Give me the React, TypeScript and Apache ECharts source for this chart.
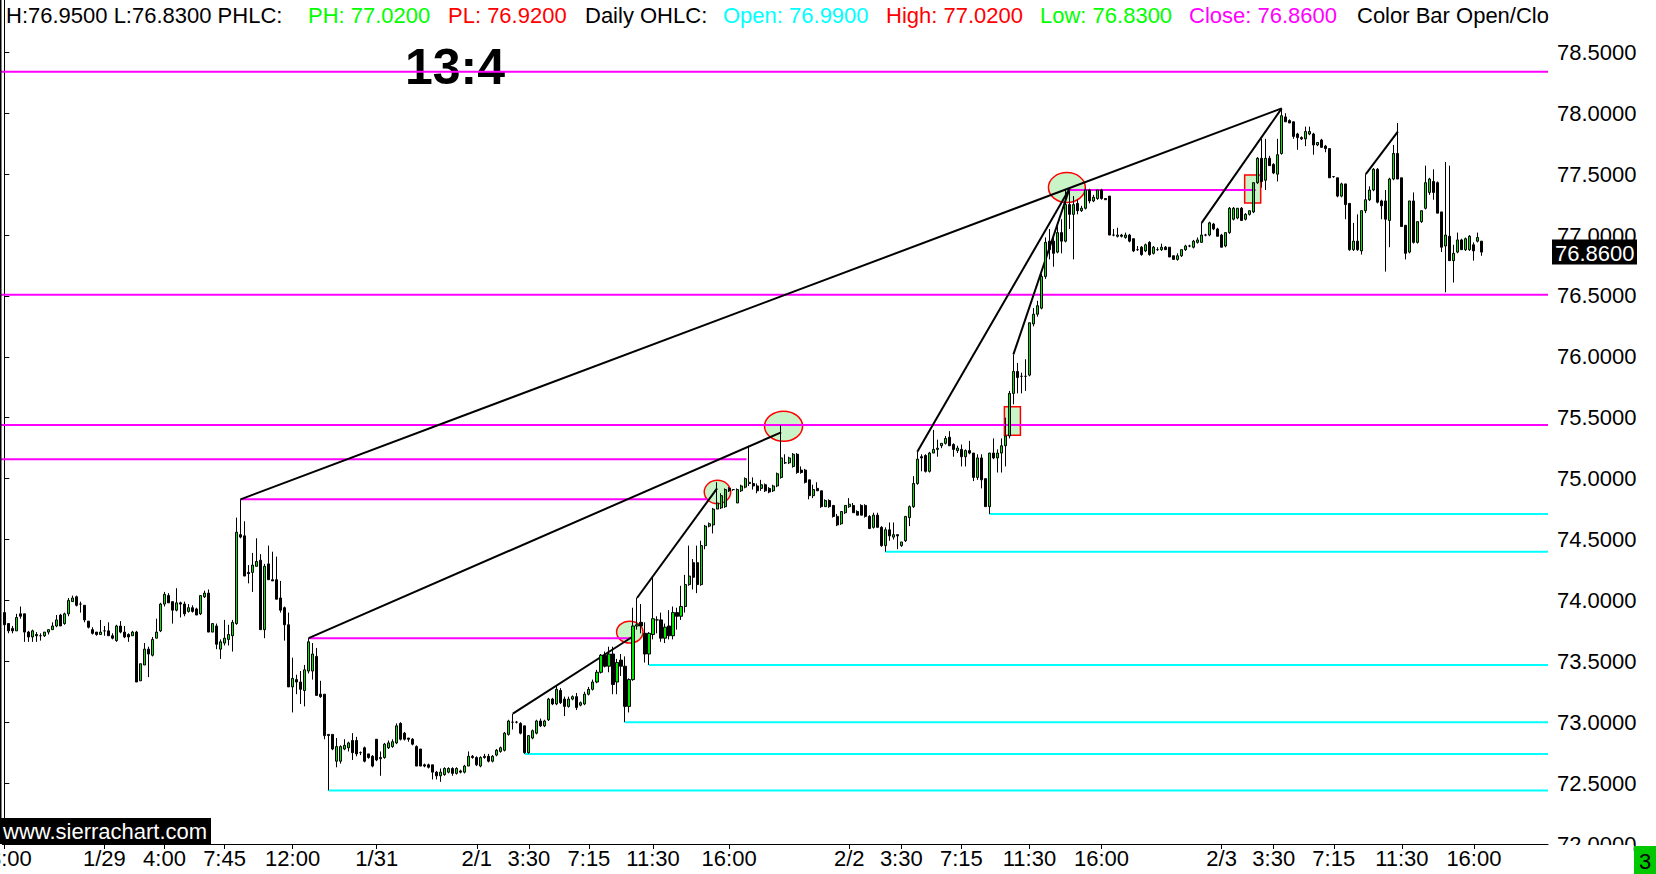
import React, { useEffect, useRef } from 'react';
import * as echarts from 'echarts';

const FONT = '"Liberation Sans", Arial, Helvetica, sans-serif';

// ---- 15-minute bars, [open, high, low, close] ----
const barsJan28_29: number[][] = [
  [73.90,73.90,73.79,73.80],[73.81,73.81,73.73,73.75],[73.77,73.79,73.73,73.75],[73.75,73.89,73.75,73.86],
  [73.89,73.95,73.85,73.87],[73.89,73.89,73.66,73.74],[73.74,73.75,73.66,73.70],[73.70,73.76,73.66,73.75],
  [73.72,73.74,73.66,73.71],[73.71,73.73,73.67,73.71],[73.71,73.74,73.70,73.74],[73.74,73.76,73.72,73.76],
  [73.76,73.82,73.76,73.79],[73.79,73.88,73.78,73.84],[73.88,73.89,73.79,73.79],[73.81,73.90,73.80,73.89],
  [73.89,74.02,73.87,74.00],[73.99,74.04,73.99,74.02],[74.03,74.04,73.95,73.96],[73.97,73.99,73.90,73.97],
  [73.96,73.96,73.82,73.84],[73.83,73.83,73.77,73.78],[73.76,73.78,73.72,73.73],[73.74,73.74,73.71,73.72],
  [73.72,73.84,73.72,73.74],[73.75,73.79,73.71,73.75],[73.75,73.82,73.71,73.71],[73.71,73.73,73.68,73.69],
  [73.67,73.80,73.66,73.79],[73.79,73.83,73.73,73.74],[73.74,73.79,73.69,73.70],[73.72,73.73,73.66,73.70],
  [73.71,73.75,73.71,73.74],[73.74,73.75,73.33,73.33],[73.34,73.48,73.34,73.48],[73.47,73.65,73.47,73.60],
  [73.60,73.62,73.37,73.56],[73.55,73.70,73.54,73.68],[73.69,73.85,73.69,73.74],[73.75,73.98,73.74,73.97],
  [73.97,74.07,73.95,74.05],[74.04,74.06,73.98,73.98],[73.99,73.99,73.81,73.92],[73.92,74.10,73.91,73.98],
  [73.98,73.99,73.86,73.97],[73.97,73.99,73.87,73.89],[73.91,73.97,73.90,73.94],[73.94,73.96,73.90,73.91],
  [73.93,73.94,73.88,73.88],[73.89,74.04,73.88,74.04],[74.03,74.08,74.02,74.06],[74.06,74.09,73.74,73.74],
  [73.74,73.81,73.74,73.81],[73.79,73.81,73.60,73.64],[73.60,73.68,73.52,73.66],[73.65,73.84,73.63,73.69],
  [73.68,73.80,73.63,73.72],[73.71,73.84,73.58,73.82],[73.81,74.68,73.80,74.56],[74.54,74.83,74.51,74.52],
  [74.53,74.65,74.20,74.20],[74.23,74.29,74.14,74.22],[74.23,74.39,74.07,74.29],[74.28,74.51,74.28,74.32],
  [74.33,74.38,73.76,73.76],[73.76,74.30,73.69,74.28],[74.30,74.45,74.17,74.17],[74.17,74.40,74.16,74.16],
  [74.17,74.36,74.01,74.01],[74.02,74.16,73.90,73.92],[73.94,73.95,73.67,73.80],[73.80,73.90,73.29,73.29],
  [73.29,73.53,73.08,73.36],[73.35,73.39,73.23,73.33],[73.33,73.42,73.15,73.27],[73.26,73.47,73.13,73.43],
];
const barsJan29_Feb1: number[][] = [
  [73.42,73.69,73.40,73.66],[73.42,73.65,73.35,73.56],[73.54,73.61,73.22,73.22],[73.23,73.34,73.20,73.21],
  [73.23,73.23,72.86,72.89],[72.90,72.90,72.44,72.89],[72.90,72.90,72.77,72.78],[72.68,72.87,72.63,72.80],
  [72.68,72.81,72.66,72.80],[72.78,72.86,72.77,72.81],[72.79,72.84,72.76,72.83],[72.85,72.91,72.69,72.75],
  [72.85,72.88,72.72,72.74],[72.75,72.76,72.73,72.75],[72.79,72.80,72.67,72.68],[72.74,72.74,72.70,72.71],
  [72.72,72.73,72.63,72.64],[72.86,72.86,72.68,72.69],[72.70,72.76,72.56,72.71],[72.71,72.83,72.70,72.82],
  [72.79,72.85,72.78,72.83],[72.80,72.86,72.79,72.84],[72.83,72.99,72.82,72.97],[72.99,73.00,72.85,72.86],
  [72.91,72.92,72.85,72.86],[72.87,72.87,72.84,72.86],[72.86,72.87,72.81,72.82],[72.80,72.81,72.64,72.64],
  [72.78,72.78,72.64,72.64],[72.65,72.66,72.63,72.64],[72.65,72.66,72.62,72.63],[72.65,72.65,72.53,72.59],
  [72.59,72.60,72.53,72.56],[72.56,72.62,72.51,72.59],[72.57,72.63,72.56,72.62],[72.59,72.63,72.58,72.62],
  [72.62,72.63,72.56,72.58],[72.58,72.63,72.57,72.62],[72.60,72.61,72.58,72.59],[72.59,72.65,72.58,72.64],
  [72.64,72.76,72.64,72.72],[72.72,72.73,72.70,72.71],[72.71,72.72,72.64,72.65],[72.64,72.72,72.63,72.71],
  [72.71,72.74,72.70,72.72],[72.72,72.74,72.67,72.68],[72.68,72.73,72.67,72.72],[72.73,72.78,72.72,72.77],
  [72.76,72.80,72.75,72.79],[72.77,72.92,72.76,72.91],[72.90,73.02,72.89,73.01],[73.00,73.07,72.94,73.00],
  [73.00,73.01,72.99,73.00],[72.99,73.00,72.90,72.91],[72.97,72.97,72.74,72.75],[72.75,72.89,72.74,72.89],
  [72.87,72.94,72.86,72.93],[72.91,73.02,72.90,73.01],[73.01,73.03,72.96,72.97],[72.97,73.02,72.96,73.01],
  [73.02,73.20,73.01,73.19],[73.19,73.20,73.14,73.15],[73.15,73.30,73.14,73.27],[73.26,73.28,73.15,73.16],
  [73.19,73.21,73.05,73.13],[73.13,73.21,73.12,73.19],[73.19,73.22,73.18,73.21],[73.21,73.24,73.10,73.12],
  [73.14,73.17,73.13,73.16],[73.15,73.25,73.14,73.23],[73.23,73.29,73.22,73.27],[73.27,73.35,73.26,73.33],
  [73.33,73.43,73.32,73.41],[73.41,73.56,73.40,73.55],[73.55,73.58,73.45,73.46],[73.46,73.62,73.41,73.56],
];
const barsFeb1_2: number[][] = [
  [73.56,73.62,73.23,73.31],[73.33,73.52,73.23,73.49],[73.51,73.56,73.38,73.46],[73.46,73.54,73.00,73.13],
  [73.13,73.36,73.08,73.35],[73.35,73.94,73.34,73.79],[73.79,74.02,73.76,73.80],[73.82,73.97,73.73,73.79],
  [73.73,73.82,73.49,73.56],[73.56,73.74,73.47,73.73],[73.72,74.19,73.68,73.85],[73.84,73.87,73.73,73.84],
  [73.84,73.90,73.66,73.69],[73.69,73.81,73.65,73.78],[73.79,73.92,73.68,73.71],[73.71,73.95,73.68,73.90],
  [73.90,73.94,73.76,73.87],[73.87,74.12,73.84,73.95],[73.95,74.21,73.90,74.13],[74.13,74.45,74.12,74.20],
  [74.31,74.34,74.09,74.19],[74.31,74.45,74.06,74.13],[74.13,74.49,74.12,74.45],[74.45,74.62,74.42,74.61],
  [74.61,74.64,74.60,74.63],[74.62,74.76,74.55,74.75],[74.75,74.97,74.75,74.80],[74.76,74.88,74.75,74.86],
  [74.77,74.92,74.76,74.91],[74.92,74.93,74.89,74.90],[74.91,74.91,74.90,74.91],[74.80,74.92,74.80,74.91],
  [74.90,74.95,74.89,74.94],[74.93,75.01,74.92,75.00],[74.96,75.27,74.94,74.97],[74.96,75.01,74.91,74.94],
  [74.94,74.96,74.88,74.90],[74.92,74.99,74.90,74.95],[74.95,74.96,74.89,74.90],[74.92,74.93,74.88,74.89],
  [74.90,74.95,74.89,74.94],[74.94,75.05,74.93,75.04],[75.01,75.44,75.00,75.17],[75.13,75.20,75.12,75.13],
  [75.13,75.18,75.12,75.17],[75.10,75.21,75.09,75.20],[75.20,75.21,75.04,75.05],[75.07,75.10,75.04,75.05],
  [75.07,75.08,74.96,74.97],[74.99,74.99,74.83,74.86],[74.86,74.95,74.84,74.91],[74.92,74.97,74.90,74.90],
  [74.90,74.90,74.76,74.77],[74.77,74.83,74.77,74.82],[74.82,74.83,74.76,74.77],[74.78,74.78,74.68,74.69],
  [74.69,74.71,74.61,74.62],[74.63,74.73,74.62,74.73],[74.72,74.78,74.71,74.78],[74.77,74.84,74.76,74.79],
  [74.78,74.80,74.72,74.72],[74.73,74.74,74.70,74.70],[74.78,74.79,74.70,74.70],[74.78,74.79,74.68,74.69],
  [74.69,74.70,74.59,74.59],[74.60,74.72,74.59,74.70],[74.70,74.72,74.60,74.60],[74.60,74.61,74.44,74.45],
  [74.45,74.60,74.40,74.58],[74.58,74.64,74.49,74.53],[74.52,74.64,74.50,74.54],[74.54,74.54,74.42,74.53],
  [74.45,74.48,74.44,74.48],[74.49,74.69,74.48,74.69],[74.68,74.78,74.61,74.77],
];
const barsFeb2: number[][] = [
  [74.77,75.02,74.76,74.96],[74.96,75.22,74.95,75.16],[75.18,75.20,75.06,75.17],[75.19,75.20,75.05,75.06],
  [75.06,75.22,75.05,75.21],[75.21,75.40,75.21,75.24],[75.24,75.32,75.18,75.25],[75.27,75.29,75.25,75.29],
  [75.29,75.35,75.28,75.33],[75.34,75.39,75.27,75.27],[75.28,75.29,75.18,75.24],[75.23,75.27,75.21,75.25],
  [75.24,75.28,75.10,75.18],[75.18,75.24,75.10,75.23],[75.23,75.31,75.20,75.21],[75.21,75.21,74.98,75.01],
  [75.01,75.20,74.99,75.17],[75.17,75.20,74.92,74.99],[75.00,75.00,74.77,74.77],[74.77,75.21,74.71,75.21],
  [75.21,75.33,75.16,75.17],[75.17,75.24,75.05,75.21],[75.21,75.33,75.05,75.27],[75.27,75.50,75.10,75.35],
  [75.35,75.72,75.33,75.70],[75.70,76.02,75.61,75.88],[75.88,75.95,75.70,75.83],[75.84,75.87,75.70,75.84],
  [75.84,75.98,75.72,75.84],[75.85,76.28,75.84,76.28],[76.27,76.40,76.25,76.35],[76.35,76.46,76.33,76.42],
  [76.40,76.68,76.39,76.66],[76.66,76.98,76.64,76.94],[76.95,77.05,76.80,76.88],[76.95,76.99,76.74,76.85],
  [76.86,77.07,76.85,77.02],[77.02,77.13,76.85,76.95],[76.95,77.37,76.94,77.25],[77.25,77.38,77.05,77.17],
  [77.17,77.32,76.80,77.25],[77.26,77.29,77.17,77.20],[77.20,77.24,77.19,77.22],[77.22,77.38,77.21,77.37],
  [77.37,77.38,77.26,77.28],[77.28,77.33,77.27,77.31],[77.30,77.37,77.29,77.37],[77.37,77.38,77.29,77.30],
  [77.30,77.30,77.29,77.29],[77.32,77.32,77.00,77.00],[77.00,77.05,76.99,77.00],[76.99,77.06,76.98,77.00],
  [77.00,77.01,76.98,76.99],[76.98,77.02,76.97,77.00],[77.00,77.01,76.94,76.95],[76.97,76.97,76.86,76.87],
  [76.88,76.91,76.87,76.88],[76.90,76.91,76.83,76.84],[76.87,76.93,76.86,76.92],[76.94,76.95,76.83,76.84],
  [76.85,76.91,76.84,76.90],[76.88,76.90,76.87,76.88],[76.88,76.93,76.87,76.90],[76.90,76.91,76.88,76.88],
  [76.90,76.90,76.82,76.82],[76.83,76.83,76.80,76.80],[76.80,76.85,76.79,76.83],[76.83,76.88,76.82,76.88],
  [76.88,76.92,76.87,76.91],[76.91,76.92,76.90,76.91],[76.90,76.96,76.89,76.95],[76.94,76.98,76.93,76.96],
  [76.94,77.10,76.94,77.00],[77.00,77.01,76.99,77.00],[77.00,77.11,76.99,77.10],
];
const barsFeb3: number[][] = [
  [77.09,77.10,77.04,77.05],[77.05,77.06,76.99,76.99],[77.00,77.01,76.90,76.90],[76.91,77.02,76.90,77.02],
  [77.02,77.23,77.01,77.22],[77.13,77.23,77.12,77.22],[77.14,77.22,77.13,77.22],[77.22,77.23,77.12,77.12],
  [77.13,77.18,77.12,77.17],[77.17,77.20,77.16,77.20],[77.19,77.43,77.18,77.43],[77.43,77.64,77.42,77.63],
  [77.63,77.79,77.39,77.44],[77.45,77.79,77.37,77.63],[77.63,77.65,77.57,77.57],[77.58,77.59,77.50,77.51],
  [77.50,77.79,77.44,77.66],[77.67,78.04,77.66,77.98],[77.97,78.00,77.93,77.93],[77.94,77.95,77.92,77.92],
  [77.93,77.93,77.79,77.81],[77.83,77.84,77.70,77.80],[77.80,77.81,77.78,77.79],[77.79,77.89,77.73,77.85],
  [77.83,77.89,77.82,77.85],[77.83,77.84,77.66,77.74],[77.74,77.76,77.73,77.76],[77.78,77.79,77.72,77.72],
  [77.73,77.74,77.68,77.71],[77.71,77.71,77.47,77.47],[77.48,77.48,77.47,77.48],[77.47,77.47,77.31,77.32],
  [77.32,77.43,77.31,77.42],[77.42,77.42,77.13,77.25],[77.26,77.26,76.87,76.88],[76.88,77.10,76.87,76.95],
  [76.95,77.17,76.87,76.88],[76.87,77.20,76.84,77.20],[77.20,77.50,77.18,77.29],[77.29,77.40,77.28,77.37],
  [77.37,77.55,77.36,77.54],[77.54,77.55,77.26,77.27],[77.28,77.29,77.13,77.24],[77.28,77.37,76.70,77.13],
  [77.12,77.47,76.90,77.46],[77.46,77.74,77.45,77.67],[77.67,77.92,77.46,77.46],[77.47,77.47,77.07,77.07],
  [77.08,77.08,76.80,76.85],[76.86,77.28,76.85,77.28],[77.28,77.35,76.93,76.94],[76.94,77.11,76.93,77.11],
  [77.11,77.20,77.10,77.20],[77.22,77.57,77.21,77.43],[77.35,77.47,77.33,77.46],[77.44,77.54,77.29,77.35],
  [77.43,77.44,77.18,77.18],[77.19,77.19,76.86,76.90],[76.91,77.60,76.53,77.00],[76.99,77.57,76.79,76.79],
  [76.79,76.92,76.61,76.85],[76.86,77.02,76.85,76.96],[76.96,76.97,76.88,76.88],[76.88,76.98,76.87,76.97],
  [76.88,77.00,76.87,76.99],[76.92,76.94,76.79,76.87],[76.95,77.02,76.94,76.98],[76.95,76.95,76.83,76.86],
];

// ---- time axis labels (bar index -> text) ----
const tickIndex = [0, 25, 40, 55, 72, 93, 118, 131, 146, 162, 181, 211, 224, 239, 256, 274, 304, 317, 332, 349, 367];
const tickText = ['18:00', '1/29', '4:00', '7:45', '12:00', '1/31', '2/1', '3:30', '7:15', '11:30', '16:00',
  '2/2', '3:30', '7:15', '11:30', '16:00', '2/3', '3:30', '7:15', '11:30', '16:00'];

const SLOT_COUNT = 386;
const LEFT_EDGE = -1.07;
const RIGHT_EDGE = SLOT_COUNT - 0.5;

// ---- drawings (bar index, price) ----
const magentaFull = [78.34, 76.51, 75.44];
const magentaSegments = [[LEFT_EDGE, 185.35, 75.16], [59, 175.6, 74.83], [76, 157.25, 73.69], [266, 312.5, 77.37]];
const cyanStarts = [[246, 74.71], [220, 74.40], [161, 73.47], [155, 73.00], [130, 72.74], [81, 72.44]];
const trendLines = [
  [59, 74.83, 319, 78.04], [76, 73.69, 194, 75.38], [127, 73.07, 157.25, 73.71], [158, 74.02, 178, 74.92],
  [228, 75.22, 266, 77.38], [252, 76.02, 266, 77.38], [299, 77.10, 319, 78.04], [340, 77.50, 348, 77.85],
];
const ellipses = [[194.6, 75.43, 4.75, 0.123], [178.1, 74.89, 3.3, 0.096], [156.2, 73.74, 3.3, 0.09], [265.35, 77.39, 4.6, 0.123]];
const markBoxes = [[249.75, 253.75, 75.356, 75.59], [309.75, 313.75, 77.264, 77.494]];
const lastPrice = 76.86;

const headerParts = [
  { text: 'H:76.9500 L:76.8300 PHLC:', x: 6, color: '#000000' },
  { text: 'PH: 77.0200', x: 308, color: '#00ff00' },
  { text: 'PL: 76.9200', x: 448, color: '#ff0000' },
  { text: 'Daily OHLC:', x: 585, color: '#000000' },
  { text: 'Open: 76.9900', x: 723, color: '#00ffff' },
  { text: 'High: 77.0200', x: 886, color: '#ff0000' },
  { text: 'Low: 76.8300', x: 1040, color: '#00ff00' },
  { text: 'Close: 76.8600', x: 1189, color: '#ff00ff' },
  { text: 'Color Bar Open/Close', x: 1357, color: '#000000' },
];

export default function App() {
  const ref = useRef<HTMLDivElement>(null);

  useEffect(() => {
    document.body.style.margin = '0';
    document.body.style.overflow = 'hidden';
    const chart = echarts.init(ref.current as HTMLDivElement, null, { renderer: 'svg', width: 1656, height: 874 });

    const bars = [...barsJan28_29, ...barsJan29_Feb1, ...barsFeb1_2, ...barsFeb2, ...barsFeb3];
    const candleData = bars.map(([o, h, l, c]) => [o, c, l, h]);
    const categories = Array.from({ length: SLOT_COUNT }, (_, i) => 'b' + i);
    const labelMap: Record<number, string> = {};
    tickIndex.forEach((idx, k) => { labelMap[idx] = tickText[k]; });
    const isTick = (idx: number) => labelMap[idx] !== undefined;

    const segRender = (color: string, width: number) => (params: any, api: any) => {
      const a = api.coord([api.value(0), api.value(1)]);
      const b = api.coord([api.value(2), api.value(3)]);
      return {
        type: 'line',
        shape: { x1: a[0], y1: a[1], x2: b[0], y2: b[1] },
        style: { stroke: color, lineWidth: width },
      };
    };

    const magentaData = [
      ...magentaFull.map((p) => [LEFT_EDGE, p, RIGHT_EDGE, p]),
      ...magentaSegments.map(([x1, x2, p]) => [x1, p, x2, p]),
    ];
    const cyanData = cyanStarts.map(([x1, p]) => [x1, p, RIGHT_EDGE, p]);

    const option: any = {
      animation: false,
      backgroundColor: '#ffffff',
      grid: { left: 2.3, right: 108, top: 0, bottom: 30, containLabel: false, outerBoundsMode: 'none' },
      xAxis: [
        {
          type: 'category',
          data: categories,
          boundaryGap: true,
          axisLine: { show: true, lineStyle: { color: '#000', width: 1 } },
          axisTick: { show: true, alignWithLabel: true, length: 5, interval: (idx: number) => isTick(idx), lineStyle: { color: '#000' } },
          axisLabel: {
            show: true,
            interval: (idx: number) => isTick(idx),
            formatter: (_v: string, idx: number) => labelMap[idx] ?? '',
            color: '#000', fontSize: 22, fontFamily: FONT, margin: 3,
          },
          splitLine: { show: false },
        },
        { type: 'value', min: -0.5, max: RIGHT_EDGE, show: false },
      ],
      yAxis: [
        {
          type: 'value',
          position: 'right',
          min: 72,
          max: 78.93,
          interval: 0.5,
          axisLine: { show: true, lineStyle: { color: '#000', width: 1 } },
          axisTick: { show: true, length: 5, lineStyle: { color: '#000' } },
          axisLabel: {
            formatter: (v: number) => v.toFixed(4),
            color: '#000', fontSize: 22, fontFamily: FONT, margin: 9, showMaxLabel: false,
          },
          splitLine: { show: false },
        },
      ],
      series: [
        {
          type: 'custom', name: 'ellipses', xAxisIndex: 1, yAxisIndex: 0, z: 2, silent: true,
          data: ellipses,
          renderItem: (params: any, api: any) => {
            const c = api.coord([api.value(0), api.value(1)]);
            const s = api.size([api.value(2), api.value(3)]);
            return {
              type: 'ellipse',
              shape: { cx: c[0], cy: c[1], rx: s[0], ry: s[1] },
              style: { fill: '#c8f4c8', stroke: '#ff0000', lineWidth: 1.5 },
            };
          },
        },
        {
          type: 'custom', name: 'boxes', xAxisIndex: 1, yAxisIndex: 0, z: 2, silent: true,
          data: markBoxes,
          renderItem: (params: any, api: any) => {
            const a = api.coord([api.value(0), api.value(3)]);
            const b = api.coord([api.value(1), api.value(2)]);
            return {
              type: 'rect',
              shape: { x: a[0], y: a[1], width: b[0] - a[0], height: b[1] - a[1] },
              style: { fill: '#c8f4c8', stroke: '#ff0000', lineWidth: 1.5 },
            };
          },
        },
        {
          type: 'custom', name: 'magenta', xAxisIndex: 1, yAxisIndex: 0, z: 3, silent: true,
          data: magentaData, renderItem: segRender('#ff00ff', 2),
        },
        {
          type: 'custom', name: 'cyan', xAxisIndex: 1, yAxisIndex: 0, z: 3, silent: true,
          data: cyanData, renderItem: segRender('#00ffff', 2),
        },
        {
          type: 'custom', name: 'trend', xAxisIndex: 1, yAxisIndex: 0, z: 3, silent: true,
          data: trendLines, renderItem: segRender('#000000', 2),
        },
        {
          type: 'candlestick', name: 'bars', xAxisIndex: 0, yAxisIndex: 0, z: 4,
          data: candleData,
          barWidth: 2.6,
          large: false,
          itemStyle: { color: '#00e400', color0: '#000000', borderColor: '#000000', borderColor0: '#000000', borderWidth: 1 },
        },
        {
          type: 'custom', name: 'last', xAxisIndex: 1, yAxisIndex: 0, z: 10, silent: true,
          data: [[candleData.length - 1, lastPrice]],
          renderItem: (params: any, api: any) => {
            const p = api.coord([api.value(0), api.value(1)]);
            const cs = params.coordSys;
            const x0 = cs.x + cs.width + 4;
            return {
              type: 'group',
              children: [
                { type: 'rect', shape: { x: x0, y: p[1] - 12.5, width: 85, height: 25 }, style: { fill: '#000' } },
                {
                  type: 'text',
                  style: {
                    text: lastPrice.toFixed(4), x: x0 + 3, y: p[1] + 1, fill: '#fff',
                    fontSize: 22, fontFamily: FONT, align: 'left', verticalAlign: 'middle',
                  },
                },
              ],
            };
          },
        },
      ],
      graphic: [
        ...headerParts.map((h) => ({
          type: 'text', x: h.x, y: 15, z: 1, silent: true,
          style: { text: h.text, fill: h.color, fontSize: 22, fontFamily: FONT, align: 'left', verticalAlign: 'middle' },
        })),
        {
          type: 'text', x: 455, y: 67, z: 1, silent: true,
          style: { text: '13:4', fill: '#000', fontSize: 50, fontWeight: 'bold', fontFamily: FONT, align: 'center', verticalAlign: 'middle' },
        },
        { type: 'rect', z: 100, silent: true, shape: { x: 1548.7, y: 0, width: 110, height: 32 }, style: { fill: '#fff' } },
        { type: 'rect', z: 100, silent: true, shape: { x: 1548.7, y: 845, width: 85, height: 30 }, style: { fill: '#fff' } },
        { type: 'rect', z: 100, silent: true, shape: { x: 0, y: 0, width: 1.5, height: 844 }, style: { fill: '#000' } },
        { type: 'rect', z: 100, silent: true, shape: { x: 0, y: 818, width: 211, height: 26 }, style: { fill: '#000' } },
        {
          type: 'text', x: 3, y: 831, z: 101, silent: true,
          style: { text: 'www.sierrachart.com', fill: '#fff', fontSize: 22, fontFamily: FONT, align: 'left', verticalAlign: 'middle' },
        },
        { type: 'rect', z: 100, silent: true, shape: { x: 1634, y: 846, width: 22, height: 28 }, style: { fill: '#00c800' } },
        {
          type: 'text', x: 1645, y: 861, z: 101, silent: true,
          style: { text: '3', fill: '#000', fontSize: 22, fontFamily: FONT, align: 'center', verticalAlign: 'middle' },
        },
      ],
    };

    chart.setOption(option);
    return () => { chart.dispose(); };
  }, []);

  return <div ref={ref} style={{ width: 1656, height: 874 }} />;
}
